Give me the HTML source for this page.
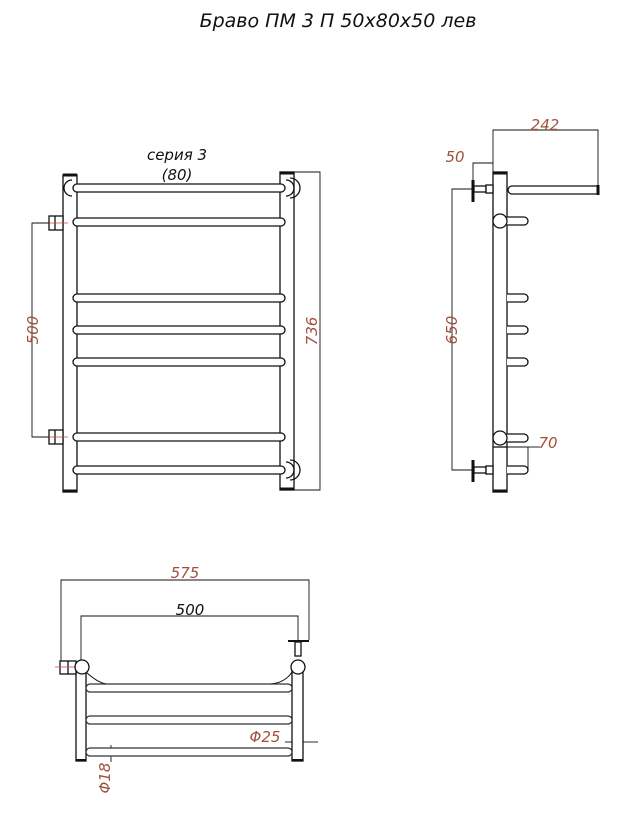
<!DOCTYPE html>
<html><head><meta charset="utf-8"><style>
html,body{margin:0;padding:0;background:#fff;}
svg{display:block}
text{font-family:"DejaVu Sans","Liberation Sans",sans-serif;font-style:italic;}
</style></head><body>
<svg width="625" height="814" viewBox="0 0 625 814" xmlns="http://www.w3.org/2000/svg">
<g fill="none" stroke="#111" stroke-width="1.3">
<text x="338" y="27" font-size="19" fill="#111" stroke="none" text-anchor="middle">Бравο ПМ 3 П 50x80x50 лев</text>
<text x="177" y="160" font-size="15" fill="#111" stroke="none" text-anchor="middle">серия 3</text>
<text x="177" y="180" font-size="15" fill="#111" stroke="none" text-anchor="middle">(80)</text>
<!-- front view -->
<rect x="63" y="175" width="14" height="317" fill="#fff"/>
<line x1="63" y1="175" x2="77" y2="175" stroke-width="3"/>
<line x1="63" y1="491" x2="77" y2="491" stroke-width="3"/>
<rect x="280" y="172" width="14" height="318" fill="#fff"/>
<line x1="280" y1="173" x2="294" y2="173" stroke-width="3"/>
<line x1="280" y1="489" x2="294" y2="489" stroke-width="3"/>
<path d="M286 180 a8 8 0 0 1 0 16" /><path d="M290 178 a10 10 0 0 1 0 20"/>
<path d="M286 462 a8 8 0 0 1 0 16" /><path d="M290 460 a10 10 0 0 1 0 20"/>
<path d="M72 180 a8 8 0 0 0 0 16"/>
<g fill="#fff">
<rect x="73" y="184" width="212" height="8" rx="4"/>
<rect x="73" y="218" width="212" height="8" rx="4"/>
<rect x="73" y="294" width="212" height="8" rx="4"/>
<rect x="73" y="326" width="212" height="8" rx="4"/>
<rect x="73" y="358" width="212" height="8" rx="4"/>
<rect x="73" y="433" width="212" height="8" rx="4"/>
<rect x="73" y="466" width="212" height="8" rx="4"/>
</g>
<rect x="49" y="216" width="14" height="14" fill="#fff"/><line x1="55" y1="216" x2="55" y2="230"/>
<rect x="49" y="430" width="14" height="14" fill="#fff"/><line x1="55" y1="430" x2="55" y2="444"/>
<line x1="48" y1="223" x2="68" y2="223" stroke="#c44" stroke-width="0.8"/>
<line x1="48" y1="437" x2="68" y2="437" stroke="#c44" stroke-width="0.8"/>
<g stroke-width="0.9">
<polyline points="49,223 32,223 32,437 49,437"/>
<polyline points="294,172 320,172 320,490 294,490"/>
</g>
<text transform="translate(38,330) rotate(-90)" font-size="15" fill="#a0503c" stroke="none" text-anchor="middle">500</text>
<text transform="translate(317,331) rotate(-90)" font-size="15" fill="#a0503c" stroke="none" text-anchor="middle">736</text>
<!-- side view -->
<rect x="493" y="172" width="14" height="320" fill="#fff"/>
<line x1="493" y1="173" x2="507" y2="173" stroke-width="3"/>
<line x1="493" y1="491" x2="507" y2="491" stroke-width="3"/>
<line x1="493" y1="447" x2="507" y2="447"/>
<path d="M598 186 L512 186 a4 4 0 0 0 0 8 L598 194 Z" fill="#fff"/>
<line x1="598" y1="185" x2="598" y2="195" stroke-width="3"/>
<g fill="#fff">
<path d="M507 217 h17 a4 4 0 0 1 0 8 h-17"/>
<path d="M507 294 h17 a4 4 0 0 1 0 8 h-17"/>
<path d="M507 326 h17 a4 4 0 0 1 0 8 h-17"/>
<path d="M507 358 h17 a4 4 0 0 1 0 8 h-17"/>
<path d="M507 434 h17 a4 4 0 0 1 0 8 h-17"/>
<path d="M507 466 h17 a4 4 0 0 1 0 8 h-17"/>
</g>
<circle cx="500" cy="221" r="7" fill="#fff"/>
<circle cx="500" cy="438" r="7" fill="#fff"/>
<line x1="473" y1="180" x2="473" y2="202" stroke-width="3"/>
<rect x="474" y="186" width="12" height="6" fill="#fff"/><rect x="486" y="185" width="7" height="8" fill="#fff"/>
<line x1="473" y1="460" x2="473" y2="482" stroke-width="3"/>
<rect x="474" y="467" width="12" height="6" fill="#fff"/><rect x="486" y="466" width="7" height="8" fill="#fff"/>
<g stroke-width="0.9">
<polyline points="493,172 493,130 598,130 598,185"/>
<polyline points="473,180 473,163 493,163"/>
<polyline points="473,189 452,189 452,470 473,470"/>
<polyline points="507,447 528,447 528,470"/>
<line x1="528" y1="447" x2="540" y2="447"/>
</g>
<text x="545" y="130" font-size="15" fill="#a0503c" stroke="none" text-anchor="middle">242</text>
<text x="455" y="162" font-size="15" fill="#a0503c" stroke="none" text-anchor="middle">50</text>
<text transform="translate(457,330) rotate(-90)" font-size="15" fill="#a0503c" stroke="none" text-anchor="middle">650</text>
<text x="548" y="448" font-size="15" fill="#a0503c" stroke="none" text-anchor="middle">70</text>
<!-- bottom view -->
<g stroke-width="0.9">
<polyline points="61,662 61,580 309,580 309,640"/>
<polyline points="81,660 81,616 298,616 298,645"/>
<line x1="285" y1="742" x2="292" y2="742"/><line x1="303" y1="742" x2="318" y2="742"/>
<line x1="111" y1="745" x2="111" y2="762"/>
</g>
<text x="185" y="578" font-size="15" fill="#a0503c" stroke="none" text-anchor="middle">575</text>
<text x="190" y="615" font-size="15" fill="#111" stroke="none" text-anchor="middle">500</text>
<text x="265" y="742" font-size="15" fill="#a0503c" stroke="none" text-anchor="middle">Φ25</text>
<text transform="translate(110,778) rotate(-90)" font-size="15" fill="#a0503c" stroke="none" text-anchor="middle">Φ18</text>
<rect x="76" y="670" width="10" height="91" fill="#fff"/>
<line x1="76" y1="760" x2="86" y2="760" stroke-width="2"/>
<rect x="292" y="670" width="11" height="91" fill="#fff"/>
<line x1="292" y1="760" x2="303" y2="760" stroke-width="2"/>
<path d="M86 672 Q100 685 110 684 L270 684 Q285 683 292 672" stroke-width="1"/>
<g fill="#fff" stroke="#333">
<rect x="86" y="684" width="206" height="8" rx="4"/>
<rect x="86" y="716" width="206" height="8" rx="4"/>
<rect x="86" y="748" width="206" height="8" rx="4"/>
</g>
<rect x="60" y="661" width="16" height="13" fill="#fff"/><line x1="68" y1="661" x2="68" y2="674"/>
<line x1="55" y1="667" x2="80" y2="667" stroke="#c44" stroke-width="0.8"/>
<circle cx="82" cy="667" r="7" fill="#fff"/>
<circle cx="298" cy="667" r="7" fill="#fff"/>
<line x1="288" y1="641" x2="309" y2="641" stroke-width="2"/>
<rect x="295" y="642" width="6" height="14" fill="#fff"/>
</g>
</svg>
</body></html>
